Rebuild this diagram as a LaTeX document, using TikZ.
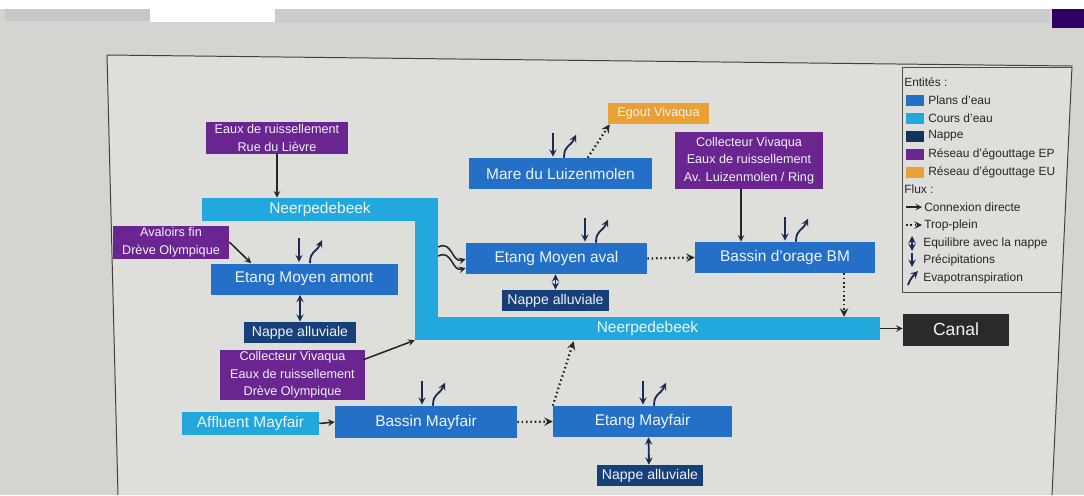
\documentclass[tikz,border=0pt]{standalone}
\usepackage{fontspec}
\setmainfont{Liberation Sans}
\usetikzlibrary{calc}

\definecolor{planC}{HTML}{2470C6}
\definecolor{coursC}{HTML}{22A8DD}
\definecolor{nappeC}{HTML}{173F78}
\definecolor{epC}{HTML}{6A2590}
\definecolor{euC}{HTML}{E9A035}
\definecolor{canalC}{HTML}{2A2A2A}
\definecolor{flowC}{HTML}{1B2A55}
\definecolor{photoC}{HTML}{D4D5D0}
\definecolor{screenC}{HTML}{DEDFDB}
\definecolor{boxtext}{HTML}{EEF3FA}

\tikzset{
  box/.style={inner sep=0pt, align=center, text=boxtext, font=\fontsize{11}{13}\selectfont},
  sz/.style 2 args={minimum width=#1*0.025cm, minimum height=#2*0.025cm},
  plan/.style={box, fill=planC},
  cours/.style={box, fill=coursC},
  nappe/.style={box, fill=nappeC, font=\fontsize{10}{12}\selectfont},
  reseau/.style={box, fill=epC, font=\fontsize{9}{12.6}\selectfont},
  conn/.style={->, >=stealth, line width=1.1pt, black!85},
  over/.style={conn, dotted, line width=1.6pt},
  rain/.style={->, >=stealth, line width=1.3pt, flowC},
  evap/.style={rain},
  equi/.style={<->, >=stealth, line width=1.3pt, flowC},
  legsq/.style={inner sep=0pt, minimum width=18*0.025cm, minimum height=11*0.025cm},
  legtext/.style={anchor=west, inner sep=0pt, font=\fontsize{8.5}{10}\selectfont, text=black!85}
}

% pluie + evapotranspiration au-dessus d'un plan d'eau
\newcommand\meteo[2]{%
  \begin{scope}[shift={(#2,0 |- #1.north)}]
    \draw[rain] (0,-25) -- (0,-1);
    \draw[evap] (11,0) .. controls (11,-13) and (17,-10) .. (23,-23);
  \end{scope}}

\begin{document}
\begin{tikzpicture}[x=0.025cm, y=-0.025cm]
  %%%%% START %%%%%

  \useasboundingbox (0,0) rectangle (1084,495);
  \fill[photoC] (0,0) rectangle (1084,495);
  \fill[white] (0,0) rectangle (1084,9);
  \fill[black!22] (5,9) rectangle (150,21);
  \fill[white] (150,9) rectangle (275,22);
  \fill[black!20] (275,9) rectangle (1050,23);
  \fill[black!70!red!60!blue] (1052,9) rectangle (1084,28);
  \draw[black!75, line width=0.7pt, fill=screenC] (118,495) -- (107,55) -- (1072,66) -- (1052,495);

  % Neerpedebeek
  \node[cours, sz={236}{23}] (neerA) at (320,209.5) {Neerpedebeek};
  \node[cours, sz={23}{142}] (neerV) at (426.5,269) {};
  \node[cours, sz={465}{23}] (neerB) at (647.5,328.5) {Neerpedebeek};
  \node[box, fill=canalC, sz={106}{32}, font=\fontsize{12.5}{14}\selectfont] (canal) at (956,329.5) {Canal};

  % entites
  \node[reseau, sz={142}{32}] (lievre) at (277,138) {Eaux de ruissellement\\Rue du Lièvre};
  \node[reseau, sz={116}{33}] (avaloirs) at (171,242) {Avaloirs fin\\Drève Olympique};
  \node[plan, sz={187}{31}] (amont) at (304,279) {Etang Moyen amont};
  \node[nappe, sz={112}{21}] (napA) at (300,332.5) {Nappe alluviale};
  \node[reseau, sz={145}{50}] (drev) at (292.5,375) {Collecteur Vivaqua\\Eaux de ruissellement\\Drève Olympique};
  \node[cours, sz={137}{23}] (affl) at (250.5,423.5) {Affluent Mayfair};
  \node[plan, sz={182}{32}] (bMay) at (426,422) {Bassin Mayfair};
  \node[plan, sz={179}{31}] (eMay) at (642.5,421.5) {Etang Mayfair};
  \node[nappe, sz={106}{21}] (napM) at (650,475.5) {Nappe alluviale};
  \node[plan, sz={183}{31}] (mare) at (560.5,173.5) {Mare du Luizenmolen};
  \node[box, fill=euC, sz={101}{21}, font=\fontsize{9}{11}\selectfont] (egout) at (658.5,113.5) {Egout Vivaqua};
  \node[reseau, sz={148}{57}] (luiz) at (749,160.5) {Collecteur Vivaqua\\Eaux de ruissellement\\Av. Luizenmolen / Ring};
  \node[plan, sz={181}{31}] (avalE) at (556.5,258.5) {Etang Moyen aval};
  \node[plan, sz={180}{31}] (bm) at (785,257.5) {Bassin d'orage BM};
  \node[nappe, sz={107}{21}] (napV) at (555.5,300.5) {Nappe alluviale};

  % flux
  \draw[conn] (lievre.south) -- (lievre.south |- neerA.north);
  \draw[conn] (avaloirs.east) -- ($(amont.north west)+(41,0)$);
  \draw[conn] ($(drev.north east)+(-2,10)$) -- (neerB.south west);
  \draw[conn] (affl.east) -- (bMay.west);
  \draw[over] (bMay.east) -- (eMay.west);
  \draw[over] (eMay.north west) -- ($(neerB.south west)+(159,1)$);
  \draw[over] ($(mare.north west)+(119,0)$) -- ($(egout.south west)+(2,0)$);
  \draw[conn] ($(luiz.south)+(-8,0)$) -- ($(bm.north)+(-44,0)$);
  \draw[over] (avalE.east) -- (bm.west);
  \coordinate (bmOut) at ($(bm.south)+(59,0)$);
  \draw[over] (bmOut) -- (bmOut |- neerB.north);
  \draw[conn] (neerB.east) -- (neerB.east -| canal.west);
  \draw[conn] (neerV.east |- 0,247) .. controls (452,240) and (452,263) .. (avalE.west |- 0,259);
  \draw[conn] (neerV.east |- 0,256) .. controls (452,249) and (452,272) .. (avalE.west |- 0,268);

  % nappe
  \draw[equi] (napA.north |- amont.south) -- (napA.north);
  \draw[equi] (napV.north |- avalE.south) -- (napV.north);
  \draw[equi] ($(eMay.south)+(6,0)$) -- ($(napM.north)+(-1,0)$);

  \meteo{amont}{299}
  \meteo{mare}{553}
  \meteo{avalE}{585}
  \meteo{bm}{785}
  \meteo{bMay}{422}
  \meteo{eMay}{643}

  % legende
  \draw[black!70, line width=0.6pt] (1061,292) -- (902,292) -- (902,67) -- (1071,67);
  \node[legtext] (lgEnt) at (904,82) {Entités :};
  \node[legsq, fill=planC] (sqPlan) at (915,100) {};
  \node[legsq, fill=coursC] (sqCours) at (915,118) {};
  \node[legsq, fill=nappeC!80!black] (sqNappe) at (915,136) {};
  \node[legsq, fill=epC] (sqEP) at (915,154) {};
  \node[legsq, fill=euC] (sqEU) at (915,172) {};
  \node[legtext] at (928,100) {Plans d'eau};
  \node[legtext] at (928,118) {Cours d'eau};
  \node[legtext] at (928,136) {Nappe};
  \node[legtext] at (928,154) {Réseau d'égouttage EP};
  \node[legtext] at (928,172) {Réseau d'égouttage EU};
  \node[legtext] (lgFlux) at (904,189) {Flux :};
  \draw[conn, line width=1pt] (906,207) -- (922,207);
  \draw[over, line width=1.3pt] (906,225) -- (922,225);
  \draw[equi] (912,236) -- (912,251);
  \draw[rain] (912,253) -- (912,267);
  \draw[evap] (908,285) .. controls (910,279) and (913,276) .. (918,271);
  \node[legtext] at (924,207) {Connexion directe};
  \node[legtext] at (924,225) {Trop-plein};
  \node[legtext] at (923,243) {Equilibre avec la nappe};
  \node[legtext] at (923,260) {Précipitations};
  \node[legtext] at (923,278) {Evapotranspiration};

  %%%%% END %%%%%
\end{tikzpicture}
\end{document}
